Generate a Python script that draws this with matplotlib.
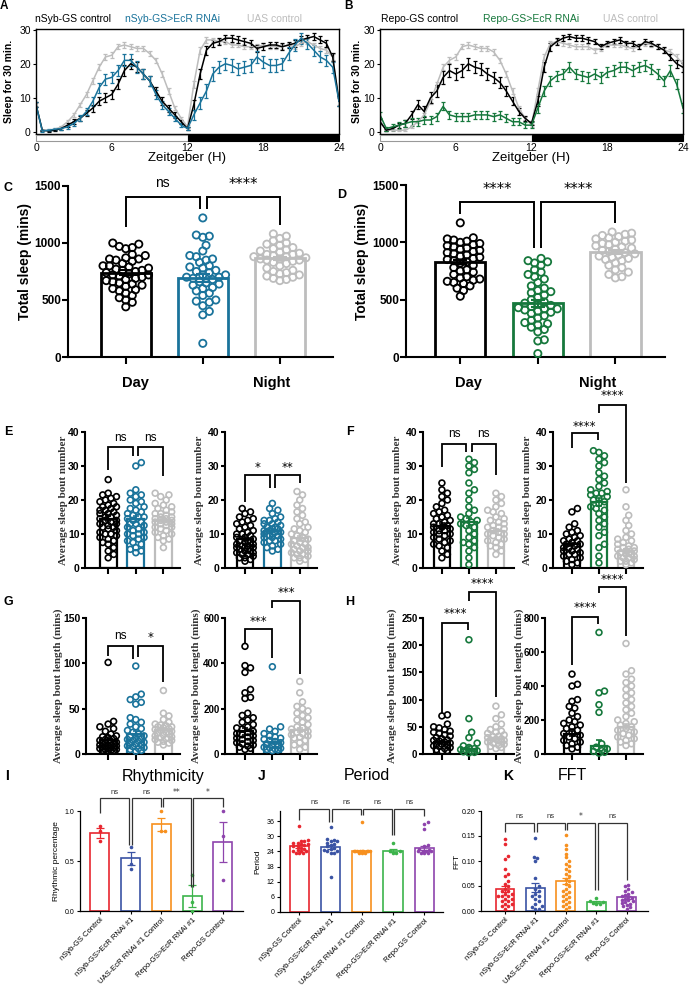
import numpy as np
import matplotlib
matplotlib.use('Agg')
import matplotlib.pyplot as plt
from matplotlib.patches import Rectangle

plt.rcParams['font.family'] = ['Liberation Sans', 'DejaVu Sans']

# ---------------- DATA ----------------
BLACK = '#000000'
BLUE = '#1a739b'
GREEN = '#16783c'
GRAY = '#bdbdbd'
IK_COLORS = ['#e8262f', '#3a53a4', '#f7901e', '#3cb44b', '#8e44ad']

zt_ticks = [0, 6, 12, 18, 24]

# Panel A (30-min bins, ZT 0..24)
A_black = [8, 0.5, 0.3, 0.5, 1, 2, 3, 4,
           5.5, 7, 9, 10, 11, 14, 18, 20,
           19, 17, 15, 12, 9, 7, 5, 3,
           1, 8, 17, 24, 26, 26.5, 27.5, 27.5,
           27, 26.5, 26, 24.5, 25, 25.5, 25.5, 25,
           25.5, 26, 27, 27.5, 28, 27, 26, 22,
           9]
A_blue = [8, 0.3, 0.5, 0.8, 1, 1.5, 2.5, 4,
          6, 9, 13, 15.5, 16, 18, 21, 21,
          19, 17, 15, 11, 8, 6, 4, 2,
          1, 5, 8.5, 12, 17, 19, 20, 19.5,
          18.5, 19, 19.5, 22, 20.5, 19.5, 19.5, 20,
          23, 25.5, 27.5, 26, 24, 22, 21, 19,
          9]
A_gray = [8, 0.3, 0.5, 0.8, 1.5, 3, 5, 8,
          11, 15, 19, 22, 22.5, 25, 25.5, 25,
          24.5, 24.5, 23, 21, 17, 12, 7, 4,
          1.5, 14, 24, 27, 27, 26.5, 26.5, 25.5,
          25.5, 25, 25, 25, 25.5, 25, 25, 25,
          25.5, 25, 26, 26.5, 25.5, 24.5, 24, 22,
          9]
A_black_err = [0.8, 0.2, 0.2, 0.3, 0.4, 0.5, 0.7, 0.8,
               0.9, 1.0, 1.2, 1.3, 1.3, 1.4, 1.5, 1.5,
               1.5, 1.4, 1.4, 1.3, 1.2, 1.0, 0.8, 0.6,
               0.4, 1.5, 1.6, 1.3, 1.0, 1.0, 1.0, 1.0,
               1.0, 1.0, 1.0, 1.0, 1.0, 1.0, 1.0, 1.0,
               1.0, 1.0, 1.0, 1.0, 1.0, 1.0, 1.0, 1.2,
               1.5]
A_blue_err = [0.8, 0.2, 0.3, 0.3, 0.4, 0.5, 0.7, 0.9,
              1.1, 1.3, 1.5, 1.6, 1.6, 1.7, 1.8, 1.8,
              1.7, 1.6, 1.5, 1.4, 1.2, 1.0, 0.8, 0.6,
              0.5, 1.5, 1.8, 2.0, 2.0, 1.8, 1.8, 1.8,
              1.8, 1.8, 1.8, 1.8, 1.8, 1.8, 1.8, 1.8,
              1.8, 1.7, 1.6, 1.6, 1.6, 1.6, 1.6, 1.6,
              1.5]
A_gray_err = [0.5, 0.1, 0.2, 0.2, 0.3, 0.4, 0.5, 0.6,
              0.7, 0.8, 0.9, 0.9, 0.9, 0.8, 0.8, 0.8,
              0.8, 0.8, 0.8, 0.8, 0.8, 0.8, 0.7, 0.5,
              0.4, 1.0, 1.0, 0.8, 0.7, 0.7, 0.7, 0.7,
              0.7, 0.7, 0.7, 0.7, 0.7, 0.7, 0.7, 0.7,
              0.7, 0.7, 0.7, 0.7, 0.7, 0.7, 0.7, 0.8,
              1.0]

# Panel B
B_black = [3, 0.5, 1, 2, 2.5, 5, 8, 6,
           10, 12, 16, 18, 17, 18, 20, 19,
           18.5, 17, 16, 14.5, 12, 9, 6, 4,
           2.5, 9, 19, 25, 26.5, 27.5, 28, 27.5,
           27.5, 27, 26.5, 25, 26, 26.5, 27, 26,
           26, 25, 26.5, 26, 25, 24, 22, 20,
           19]
B_green = [5, 1, 1.5, 2, 2.5, 3, 3, 3.5,
           3.5, 4.5, 7.5, 5, 4.5, 4.5, 4.5, 5,
           5, 5, 4.5, 5, 4, 3, 3, 2,
           2, 7, 12, 15, 16.5, 17, 19, 17,
           16.5, 16, 17, 16, 17.5, 18, 19, 19,
           18, 19, 19.5, 18.5, 17, 15, 18, 14,
           7]
B_gray = [3, 0.5, 0.5, 0.5, 0.5, 1.5, 3, 5,
          9, 14, 19, 21, 22, 25, 25.5, 25,
          24.5, 24.5, 23.5, 21, 17, 12, 7, 4,
          2, 12, 22, 26, 26.5, 26, 25.5, 25,
          25, 25, 24, 24.5, 25.5, 25.5, 25.5, 25,
          24.5, 25, 26, 25.5, 25, 24, 23.5, 22,
          20]
B_black_err = [0.8, 0.3, 0.5, 0.7, 0.9, 1.1, 1.3, 1.5,
               1.6, 1.7, 1.8, 1.8, 1.8, 1.8, 1.8, 1.8,
               1.7, 1.7, 1.6, 1.5, 1.4, 1.2, 1.0, 0.8,
               0.6, 1.5, 1.5, 1.2, 1.0, 0.8, 0.8, 0.8,
               0.8, 0.8, 0.8, 0.8, 0.8, 0.8, 0.8, 0.8,
               0.8, 0.8, 0.8, 0.8, 0.8, 0.9, 1.0, 1.2,
               1.3]
B_green_err = [0.8, 0.6, 0.8, 1.0, 1.1, 1.2, 1.2, 1.2,
               1.2, 1.2, 1.2, 1.2, 1.2, 1.2, 1.2, 1.2,
               1.2, 1.2, 1.2, 1.2, 1.2, 1.1, 1.0, 0.9,
               0.8, 1.3, 1.5, 1.5, 1.5, 1.5, 1.5, 1.5,
               1.5, 1.5, 1.5, 1.5, 1.5, 1.5, 1.5, 1.5,
               1.5, 1.5, 1.5, 1.5, 1.5, 1.5, 1.5, 1.5,
               1.5]
B_gray_err = A_gray_err

# Panel C (total sleep, nSyb)
C_black = [1000, 990, 970, 960, 950, 900, 890, 870, 860, 860, 850, 840, 820, 800, 800,
           790, 780, 770, 760, 760, 750, 740, 730, 720, 720, 710, 700, 690, 680, 670,
           660, 650, 640, 630, 620, 600, 590, 580, 560, 540, 520, 500, 480, 440]
C_blue = [1220, 1070, 1060, 1050, 980, 930, 890, 880, 860, 850, 830, 800, 790, 780, 760,
          750, 740, 720, 720, 700, 700, 690, 680, 660, 650, 640, 630, 610, 600, 580,
          560, 540, 500, 490, 480, 450, 400, 370, 120]
C_gray = [1080, 1060, 1040, 1020, 1000, 990, 980, 960, 950, 940, 930, 920, 910, 900, 900,
          890, 880, 880, 870, 860, 860, 850, 850, 840, 830, 820, 800, 780, 760, 750,
          740, 730, 720, 710, 700, 690, 680, 670]
C_means = [740, 690, 865]
C_sems = [22, 35, 15]

# Panel D (total sleep, Repo)
D_black = [1170, 1040, 1030, 1020, 1010, 1000, 990, 980, 970, 960, 950, 940, 930, 920, 910,
           900, 890, 880, 870, 860, 850, 840, 830, 820, 800, 780, 760, 750, 740, 720,
           700, 690, 680, 670, 660, 650, 640, 620, 600, 580, 530]
D_green = [860, 840, 830, 820, 800, 760, 740, 720, 700, 680, 650, 620, 600, 580, 570,
           560, 540, 520, 500, 480, 470, 460, 450, 440, 430, 420, 420, 410, 400, 390,
           380, 360, 340, 320, 300, 290, 280, 260, 240, 220, 150, 140, 30]
D_gray = [1090, 1080, 1070, 1060, 1050, 1040, 1030, 1020, 1010, 1000, 990, 980, 970, 960, 950,
          940, 930, 920, 910, 900, 890, 880, 870, 860, 850, 840, 820, 800, 780, 760,
          740, 720, 700, 690]
D_means = [830, 470, 915]
D_sems = [20, 30, 14]

# Panel E (bout number, nSyb)
E_day_black = [26, 22, 21.5, 21, 20.5, 20, 19.5, 19, 18.5, 18, 18, 17.5, 17, 17, 16.5, 16, 16,
               15.5, 15, 15, 14.5, 14, 14, 13.5, 13, 13, 12.5, 12, 12, 11.5, 11, 10.5, 10, 10,
               9.5, 9, 8.5, 8, 7.5, 7, 6, 5, 4, 3]
E_day_blue = [31, 30, 23, 22, 21.5, 21, 20, 19.5, 19, 18, 17.5, 17, 16.5, 16, 15.5, 15, 15,
              14.5, 14, 13.5, 13, 13, 12.5, 12, 11.5, 11, 10.5, 10, 10, 9.5, 9, 8.5, 8, 7.5,
              7, 6, 5.5, 5, 4.5]
E_day_gray = [22, 21.5, 21, 20, 19, 18.5, 18, 17.5, 17, 16.5, 16, 16, 15.5, 15, 15, 14.5, 14.5,
              14, 14, 13.5, 13.5, 13, 13, 12.5, 12, 12, 11.5, 11, 10.5, 10, 9.5, 9, 8.5, 8, 6]
E_night_black = [17.5, 16.5, 16, 15, 14.5, 14, 13.5, 13, 12.5, 12, 11.5, 11, 10.5, 10, 10, 9.5,
                 9, 9, 8.5, 8, 8, 7.5, 7.5, 7, 7, 6.5, 6.5, 6, 6, 6, 5.5, 5.5, 5, 5, 4.5, 4.5,
                 4, 4, 3.5, 3, 3, 2.5, 2]
E_night_blue = [19, 17.5, 17, 16, 15, 14.5, 14, 14, 13.5, 13, 13, 12.5, 12, 12, 11.5, 11.5, 11,
                11, 10.5, 10.5, 10, 10, 9.5, 9.5, 9, 9, 8.5, 8, 8, 7.5, 7, 6.5, 6, 5.5, 5]
E_night_gray = [22.5, 21.5, 20, 18.5, 17.5, 16.5, 15.5, 14.5, 13.5, 13, 12, 11.5, 11, 10.5, 10,
                9.5, 9, 8.5, 8, 7.5, 7, 7, 6.5, 6, 6, 5.5, 5, 5, 4.5, 4, 4, 3.5, 3, 3, 2.5, 2]
E_day_means = [14.5, 14.5, 14]
E_day_sems = [0.8, 0.9, 0.6]
E_night_means = [8.5, 11, 8.7]
E_night_sems = [0.6, 0.5, 0.7]

# Panel F (bout number, Repo)
F_day_black = [25, 23, 22, 21, 20, 19, 18, 17, 16.5, 16, 15.5, 15, 14.5, 14, 13.5, 13, 13, 12.5,
               12, 12, 11.5, 11, 11, 10.5, 10, 10, 9.5, 9, 8.5, 8, 7.5, 7, 6.5, 6, 5, 4, 3]
F_day_green = [32, 31, 30, 29, 28, 25, 23, 22, 20, 18, 17, 16, 15, 14.5, 14, 13.5, 13, 12.5, 12,
               11, 10, 9, 8, 7.5, 7, 6, 5, 3, 1]
F_day_gray = [22, 21, 20, 19, 18, 17, 16.5, 16, 15, 14.5, 14, 13.5, 13, 12.5, 12, 12, 11.5, 11,
              10.5, 10, 10, 9.5, 9, 8.5, 8, 7.5, 7, 6.5, 6, 5, 4]
F_night_black = [17.5, 16.5, 13, 12, 11, 10.5, 10, 9.5, 9, 8.5, 8, 8, 7.5, 7, 7, 6.5, 6, 6, 5.5,
                 5, 5, 4.5, 4, 4, 3.5, 3, 2.5, 2, 1.5, 1]
F_night_green = [34.5, 34, 33, 32, 31, 30, 28, 27, 26, 25, 24, 23, 22.5, 22, 22, 21.5, 21, 20.5,
                 20, 19.5, 19, 18, 17.5, 17, 16, 15, 14, 13, 12, 10.5, 9.5, 7, 6, 3.5, 1.5]
F_night_gray = [23, 18, 15.5, 14, 12.5, 11, 10, 9, 8.5, 8, 7.5, 7, 6.5, 6, 6, 5.5, 5.5, 5, 5,
                4.5, 4.5, 4, 4, 3.5, 3.5, 3, 3, 2.5, 2, 2, 1.5, 1]
F_day_means = [12.5, 13.5, 11]
F_day_sems = [0.7, 1.2, 0.6]
F_night_means = [7, 19.5, 5]
F_night_sems = [0.5, 1.2, 0.5]

# Panel G (bout length, nSyb)
G_day_black = [101, 36, 33, 30, 28, 25, 22, 20, 19, 18, 17, 16, 15, 14, 13, 12, 12, 11, 10, 10,
               9, 9, 8, 8, 7, 7, 6, 6, 5, 5, 4, 4, 3, 3]
G_day_blue = [97, 66, 63, 60, 57, 55, 40, 38, 35, 33, 30, 28, 26, 24, 22, 20, 19, 18, 17, 16, 15,
              14, 13, 12, 11, 10, 9, 8, 7, 6, 5, 4, 3]
G_day_gray = [70, 45, 42, 38, 35, 33, 32, 31, 30, 30, 29, 28, 27, 26, 25, 24, 23, 22, 21, 20, 19,
              18, 17, 16, 15, 14, 13, 12, 10]
G_night_black = [475, 390, 380, 360, 285, 270, 250, 245, 180, 170, 160, 150, 140, 130, 120, 115,
                 110, 100, 95, 90, 85, 80, 75, 70, 65, 60, 55, 50, 45, 40, 35, 30, 25, 20]
G_night_blue = [385, 120, 110, 100, 90, 80, 75, 70, 65, 60, 55, 50, 45, 40, 35, 30, 28, 25, 22,
                20, 18, 15]
G_night_gray = [320, 270, 230, 210, 200, 190, 180, 170, 160, 150, 140, 130, 120, 115, 110, 100,
                95, 90, 85, 80, 75, 70, 60, 50, 40, 30, 20]
G_day_means = [15, 22, 27]
G_day_sems = [2.5, 3, 1.8]
G_night_means = [100, 55, 105]
G_night_sems = [15, 12, 10]

# Panel H (bout length, Repo)
H_day_black = [72, 70, 55, 50, 48, 45, 42, 40, 38, 35, 33, 30, 28, 26, 25, 24, 22, 20, 19, 18,
               16, 15, 14, 12, 10, 8, 6, 5]
H_day_green = [210, 65, 40, 30, 20, 15, 12, 10, 8, 7, 6, 5, 4, 3, 2]
H_day_gray = [88, 72, 65, 55, 50, 45, 42, 40, 38, 35, 33, 32, 30, 28, 27, 26, 25, 24, 22, 20,
              18, 16, 14, 12, 10]
H_night_black = [470, 410, 400, 320, 310, 280, 270, 240, 220, 200, 190, 180, 170, 160, 150, 140,
                 130, 120, 110, 100, 90, 80, 70, 60, 50, 40, 30]
H_night_green = [715, 370, 360, 290, 245, 60, 40, 30, 20, 15, 10, 5]
H_night_gray = [650, 490, 470, 440, 420, 400, 380, 360, 340, 320, 300, 280, 260, 240, 220, 200,
                190, 180, 170, 160, 150, 140, 130, 120, 110, 100, 90, 80, 70, 60, 50]
H_day_means = [22, 10, 28]
H_day_sems = [2, 5, 2]
H_night_means = [120, 50, 160]
H_night_sems = [15, 35, 15]

# Panels I, J, K
IJK_labels = ['nSyb-GS Control', 'nSyb-GS>EcR RNAi #1', 'UAS-EcR RNAi #1 Control',
              'Repo-GS>EcR RNAi #1', 'Repo-GS Control']
I_points = [[0.85, 0.80, 0.70], [0.64, 0.47, 0.42], [1.0, 0.80, 0.80], [0.36, 0.09, 0.0],
            [1.0, 0.75, 0.31]]
I_means = [0.78, 0.53, 0.87, 0.15, 0.69]
I_sems = [0.05, 0.065, 0.065, 0.11, 0.2]
J_points = [[34, 28.5, 28, 28, 27.5, 27.5, 27, 27, 26.5, 26, 26, 25.5, 25, 24.5, 24, 24, 24,
             23.5, 23.5, 23.5],
            [33.5, 29, 28.5, 28, 28, 27.5, 27, 26.5, 26, 25.5, 25, 24.5, 24, 24, 23.5, 23.5, 14],
            [35.5, 24, 24, 24, 24, 24, 24, 24, 24, 24, 23.5, 23.5, 23.5],
            [27.5, 24, 24, 23.5, 23.5],
            [35.5, 35, 33, 26.5, 26, 25, 24.5, 24, 24, 24, 24, 23.5, 23.5, 23.5]]
J_means = [26.0, 25.8, 24.0, 24.3, 25.2]
J_sems = [0.6, 0.9, 0.3, 0.7, 0.8]
K_points = [[0.145, 0.135, 0.11, 0.105, 0.085, 0.075, 0.07, 0.06, 0.055, 0.05, 0.045, 0.04,
             0.04, 0.035, 0.035, 0.03, 0.03, 0.03, 0.025, 0.025, 0.02, 0.02, 0.015, 0.015,
             0.01, 0.01, 0.005],
            [0.146, 0.108, 0.106, 0.1, 0.067, 0.05, 0.045, 0.04, 0.035, 0.03, 0.03, 0.025,
             0.02, 0.015, 0.01, 0.008, 0.005, 0.005],
            [0.153, 0.132, 0.125, 0.115, 0.108, 0.1, 0.095, 0.09, 0.085, 0.08, 0.075, 0.07,
             0.065, 0.06, 0.055, 0.05, 0.045, 0.04, 0.038, 0.035, 0.03, 0.028, 0.025, 0.02,
             0.018, 0.015, 0.01, 0.008, 0.005],
            [0.026, 0.02, 0.018, 0.016, 0.015, 0.015],
            [0.053, 0.05, 0.045, 0.04, 0.038, 0.035, 0.033, 0.03, 0.028, 0.027, 0.025, 0.023,
             0.022, 0.02, 0.018, 0.016, 0.015, 0.012, 0.01, 0.008, 0.005]]
K_means = [0.045, 0.047, 0.060, 0.018, 0.028]
K_sems = [0.006, 0.009, 0.006, 0.002, 0.003]

# ---------------- FIGURE ----------------
W, H = 689, 989
fig = plt.figure(figsize=(W / 100, H / 100), dpi=100)


def add_ax(l, t, r, b):
    return fig.add_axes([l / W, 1 - b / H, (r - l) / W, (b - t) / H])


def ftext(x, y, s, **kw):
    kw.setdefault('ha', 'center')
    kw.setdefault('va', 'center')
    fig.text(x / W, 1 - y / H, s, **kw)


def swarm(ax, vals, pos, diam_px, max_half):
    bb = ax.get_position()
    axw, axh = bb.width * W, bb.height * H
    x0, x1 = ax.get_xlim()
    y0, y1 = ax.get_ylim()
    sx = axw / (x1 - x0)
    sy = axh / (y1 - y0)
    v = np.asarray(vals, float)
    order = np.argsort(v)
    step = diam_px * 0.5
    maxpx = max_half * sx
    cands = [0.0]
    k = 1
    while k * step <= maxpx + 1e-9:
        cands += [k * step, -k * step]
        k += 1
    placed = []
    out = np.zeros(len(v))
    for i in order:
        y = v[i] * sy
        best = None
        bestd, bestc = -1, 0.0
        for c in cands:
            if placed:
                P = np.array(placed)
                dmin = np.min(np.hypot(P[:, 0] - c, P[:, 1] - y))
            else:
                dmin = 1e9
            if dmin >= diam_px:
                best = c
                break
            if dmin > bestd:
                bestd, bestc = dmin, c
        if best is None:
            best = bestc
        placed.append((best, y))
        out[i] = pos + best / sx
    return out


def bracket(ax, x1, x2, ytop, y1, y2, txt, ytxt, fs, lw=1.3, col='black', afont=None):
    ax.plot([x1, x1, x2, x2], [y1, ytop, ytop, y2], color=col, lw=lw, clip_on=False,
            solid_joinstyle='miter', solid_capstyle='butt', zorder=6)
    kw = {}
    if afont and '*' in txt:
        kw['family'] = afont
    ax.text((x1 + x2) / 2, ytxt, txt, ha='center', va='center', fontsize=fs,
            clip_on=False, color=col, **kw)


def ts_panel(l, r, series, legend, letter_xy, ylab_x):
    ax = add_ax(l, 29, r, 134)
    for vals, err, col in series:
        t = np.arange(len(vals)) * 0.5
        ax.errorbar(t, vals, yerr=err, color=col, lw=1.1, elinewidth=0.9,
                    capsize=1.3, capthick=0.9)
    ax.set_xlim(0, 24)
    ax.set_ylim(-0.6, 30.2)
    ax.set_yticks([0, 10, 20, 30])
    ax.set_xticks([])
    ax.tick_params(axis='y', length=2.5, width=0.8, labelsize=7.5, pad=1.2)
    for s in ax.spines.values():
        s.set_linewidth(1.0)
    ld = add_ax(l, 135, r, 141)
    ld.add_patch(Rectangle((0, 0), 12, 1, facecolor='white', edgecolor='#999999', lw=0.8,
                           clip_on=False))
    ld.add_patch(Rectangle((12, 0), 12, 1, facecolor='black', edgecolor='black', lw=0.8,
                           clip_on=False))
    ld.set_xlim(0, 24)
    ld.set_ylim(0, 1)
    ld.set_xticks(zt_ticks)
    ld.set_yticks([])
    for s in ld.spines.values():
        s.set_visible(False)
    ld.tick_params(axis='x', length=0, labelsize=7.5, pad=1.5)
    ld.set_xlabel('Zeitgeber (H)', fontsize=9.5, labelpad=-0.5)
    for x, s, c in legend:
        ftext(x, 19, s, color=c, fontsize=7.5, ha='left')
    ftext(letter_xy[0], letter_xy[1], letter_xy[2], fontsize=8.5, fontweight='bold')
    ftext(ylab_x, 81, 'Sleep for 30 min.', rotation=90, fontsize=7.5, fontweight='bold')
    return ax


ts_panel(36, 339,
         [(A_gray, A_gray_err, GRAY), (A_black, A_black_err, BLACK), (A_blue, A_blue_err, BLUE)],
         [(35, 'nSyb-GS control', BLACK), (125, 'nSyb-GS>EcR RNAi', BLUE),
          (247, 'UAS control', GRAY)],
         (4, 6, 'A'), 9)
ts_panel(380, 683,
         [(B_gray, B_gray_err, GRAY), (B_black, B_black_err, BLACK), (B_green, B_green_err, GREEN)],
         [(381, 'Repo-GS control', BLACK), (483, 'Repo-GS>EcR RNAi', GREEN),
          (603, 'UAS control', GRAY)],
         (349, 6, 'B'), 357)


def dot_bar(ax, groups, means, sems, colors, ylim, yticks, xlim, bar_w, bar_lw, ms, mew,
            spine_lw, tick_fs, tick_len, max_half, diam_px, cap, elw):
    ax.set_xlim(*xlim)
    ax.set_ylim(*ylim)
    pos = np.arange(len(groups))
    ax.bar(pos, means, width=bar_w, facecolor='white', edgecolor=colors, lw=bar_lw, zorder=1)
    for p, vals, c in zip(pos, groups, colors):
        xs = swarm(ax, vals, p, diam_px, max_half)
        ax.scatter(xs, vals, s=ms ** 2, facecolors='none', edgecolors=c, linewidths=mew,
                   zorder=3, clip_on=False)
    for p, m, e, c in zip(pos, means, sems, colors):
        ax.errorbar([p], [m], yerr=[e], color=c, capsize=cap, elinewidth=elw, capthick=elw,
                    zorder=4)
    for s in ['top', 'right']:
        ax.spines[s].set_visible(False)
    for s in ['left', 'bottom']:
        ax.spines[s].set_linewidth(spine_lw)
    ax.set_xticks(pos)
    ax.set_xticklabels([])
    ax.set_yticks(yticks)
    ax.set_yticklabels([str(t) for t in yticks], fontweight='bold', fontsize=tick_fs)
    ax.tick_params(axis='both', length=tick_len, width=spine_lw, pad=1)
    return ax


# Panel C
axC = add_ax(68, 186, 333, 357)
dot_bar(axC, [C_black, C_blue, C_gray], C_means, C_sems, [BLACK, BLUE, GRAY], (0, 1500),
        [0, 500, 1000, 1500], (-0.75, 2.69), 0.65, 2.0, 5.2, 1.3, 1.5, 8.5, 4, 0.36, 6.5, 5, 1.5)
axC.tick_params(axis='x', length=5)
bracket(axC, 0, 0.96, 1400, 1140, 1300, 'ns', 1530, 10, lw=1.4)
bracket(axC, 1.05, 2, 1400, 1300, 1160, '****', 1510, 10.5, lw=1.4, afont='DejaVu Sans')
ftext(25, 262, 'Total sleep (mins)', rotation=90, fontsize=10, fontweight='bold')
ftext(8, 188, 'C', fontsize=9, fontweight='bold')

# Panel D
axD = add_ax(406, 185, 665, 357)
dot_bar(axD, [D_black, D_green, D_gray], D_means, D_sems, [BLACK, GREEN, GRAY], (0, 1500),
        [0, 500, 1000, 1500], (-0.70, 2.64), 0.65, 2.0, 5.2, 1.3, 1.5, 8.5, 4, 0.36, 6.5, 5, 1.5)
axD.tick_params(axis='x', length=5)
bracket(axD, 0, 0.95, 1350, 1250, 950, '****', 1460, 10.5, lw=1.4, afont='DejaVu Sans')
bracket(axD, 1.04, 2, 1350, 950, 1170, '****', 1460, 10.5, lw=1.4, afont='DejaVu Sans')
ftext(362, 262, 'Total sleep (mins)', rotation=90, fontsize=10, fontweight='bold')
ftext(342, 195, 'D', fontsize=9, fontweight='bold')

# Day / Night headers
for x, s in [(135, 'Day'), (272, 'Night'), (468, 'Day'), (598, 'Night')]:
    ftext(x, 383, s, fontsize=10.5, fontweight='bold')

SERIF = ['Liberation Serif', 'DejaVu Serif']


def small_panel(box, xlim, groups, means, sems, colors, ylim, yticks, ylab, ylab_x, tick_fs=7.5):
    ax = add_ax(*box)
    dot_bar(ax, groups, means, sems, colors, ylim, yticks, xlim, 0.62, 1.6, 4.2, 1.2, 1.5,
            tick_fs, 3, 0.36, 5.5, 2.5, 1.2)
    ax.tick_params(axis='x', length=4)
    cy = (box[1] + box[3]) / 2
    ftext(ylab_x, cy, ylab, rotation=90, fontsize=8, fontweight='bold', family=SERIF,
          color='#333333')
    return ax


NB = 'Average sleep bout number'
BL = 'Average sleep bout length (mins)'

# E
axEd = small_panel((85, 432, 180, 568), (-0.84, 2.6), [E_day_black, E_day_blue, E_day_gray],
                   E_day_means, E_day_sems, [BLACK, BLUE, GRAY], (0, 40), [0, 10, 20, 30, 40],
                   NB, 63)
bracket(axEd, 0, 0.91, 35.6, 28.8, 33, 'ns', 38.3, 8.5)
bracket(axEd, 1.09, 2, 35.6, 33, 27, 'ns', 38.3, 8.5)
axEn = small_panel((225, 432, 317, 568), (-0.73, 2.63), [E_night_black, E_night_blue, E_night_gray],
                   E_night_means, E_night_sems, [BLACK, BLUE, GRAY], (0, 40), [0, 10, 20, 30, 40],
                   NB, 200)
bracket(axEn, 0, 0.9, 27.4, 19.4, 23.5, '*', 29.5, 8.5, afont='DejaVu Sans')
bracket(axEn, 1.1, 2, 27.4, 23.5, 25, '**', 29.5, 8.5, afont='DejaVu Sans')
ftext(8, 432, 'E', fontsize=9, fontweight='bold')

# F
axFd = small_panel((423, 432, 514, 568), (-0.7, 2.67), [F_day_black, F_day_green, F_day_gray],
                   F_day_means, F_day_sems, [BLACK, GREEN, GRAY], (0, 40), [0, 10, 20, 30, 40],
                   NB, 397)
bracket(axFd, 0, 0.9, 36.5, 29.7, 34, 'ns', 39.3, 8.5)
bracket(axFd, 1.1, 2, 36.5, 34, 27.4, 'ns', 39.3, 8.5)
axFn = small_panel((553, 432, 643, 568), (-0.7, 2.63), [F_night_black, F_night_green, F_night_gray],
                   F_night_means, F_night_sems, [BLACK, GREEN, GRAY], (0, 40), [0, 10, 20, 30, 40],
                   NB, 527)
bracket(axFn, 0, 0.95, 39.7, 35.3, 37.6, '****', 41.5, 8.5, afont='DejaVu Sans')
bracket(axFn, 1.0, 2, 48, 45.6, 25, '****', 50.8, 8.5, afont='DejaVu Sans')
ftext(350, 432, 'F', fontsize=9, fontweight='bold')

# G
axGd = small_panel((86, 618, 180, 754), (-0.8, 2.6), [G_day_black, G_day_blue, G_day_gray],
                   G_day_means, G_day_sems, [BLACK, BLUE, GRAY], (0, 150), [0, 50, 100, 150],
                   BL, 58)
bracket(axGd, 0, 0.91, 119, 108, 105, 'ns', 130, 8.5)
bracket(axGd, 1.09, 2, 119, 107, 79, '*', 129, 8.5, afont='DejaVu Sans')
axGn = small_panel((225, 618, 317, 754), (-0.73, 2.63), [G_night_black, G_night_blue, G_night_gray],
                   G_night_means, G_night_sems, [BLACK, BLUE, GRAY], (0, 600), [0, 200, 400, 600],
                   BL, 196, tick_fs=7)
bracket(axGn, 0, 0.97, 551, 490, 423, '***', 585, 8.5, afont='DejaVu Sans')
bracket(axGn, 1.0, 2, 675, 644, 353, '***', 713, 8.5, afont='DejaVu Sans')
ftext(8, 602, 'G', fontsize=9, fontweight='bold')

# H
axHd = small_panel((423, 618, 514, 754), (-0.7, 2.67), [H_day_black, H_day_green, H_day_gray],
                   H_day_means, H_day_sems, [BLACK, GREEN, GRAY], (0, 250),
                   [0, 50, 100, 150, 200, 250], BL, 392, tick_fs=7)
bracket(axHd, 0, 0.98, 241, 75, 228, '****', 259, 8.5, afont='DejaVu Sans')
bracket(axHd, 1.0, 2, 297, 281, 105, '****', 313, 8.5, afont='DejaVu Sans')
axHn = small_panel((545, 618, 643, 754), (-1.0, 2.63), [H_night_black, H_night_green, H_night_gray],
                   H_night_means, H_night_sems, [BLACK, GREEN, GRAY], (0, 800),
                   [0, 200, 400, 600, 800], BL, 519, tick_fs=7)
bracket(axHn, 0, 0.98, 806, 523, 765, '****', 863, 8.5, afont='DejaVu Sans')
bracket(axHn, 1.0, 2, 982, 947, 694, '****', 1028, 8.5, afont='DejaVu Sans')
ftext(350, 602, 'H', fontsize=9, fontweight='bold')


# I, J, K
def ijk_panel(box, xlim, points, means, sems, ylim, yticks, yticklabels, ylab, ylab_x,
              title, title_x, letter, letter_x):
    ax = add_ax(*box)
    ax.set_xlim(*xlim)
    ax.set_ylim(*ylim)
    pos = np.arange(len(points))
    ax.bar(pos, means, width=0.62, facecolor='white', edgecolor=IK_COLORS, lw=1.2, zorder=1)
    for p, vals, c in zip(pos, points, IK_COLORS):
        xs = swarm(ax, vals, p, 3.3, 0.27)
        ax.scatter(xs, vals, s=2.6 ** 2, color=c, zorder=3, clip_on=False, linewidths=0)
    for p, m, e, c in zip(pos, means, sems, IK_COLORS):
        ax.errorbar([p], [m], yerr=[e], color=c, capsize=3, elinewidth=0.9, capthick=0.9,
                    zorder=4)
    for s in ['top', 'right']:
        ax.spines[s].set_visible(False)
    for s in ['left', 'bottom']:
        ax.spines[s].set_linewidth(0.9)
    ax.set_xticks(pos)
    ax.set_xticklabels(IJK_labels, rotation=45, ha='right', rotation_mode='anchor', fontsize=5.5)
    ax.set_yticks(yticks)
    ax.set_yticklabels(yticklabels, fontsize=5)
    ax.tick_params(axis='both', length=2.5, width=0.8, pad=1.5)
    cy = (box[1] + box[3]) / 2
    ftext(ylab_x, cy, ylab, rotation=90, fontsize=6)
    ftext(title_x, 776, title, fontsize=11.5)
    ftext(letter_x, 776, letter, fontsize=10, fontweight='bold')
    return ax


BR = '#333333'
axI = ijk_panel((80, 811, 243, 911), (-0.65, 4.66), I_points, I_means, I_sems, (0, 1.0),
                [0.0, 0.5, 1.0], ['0.0', '0.5', '1.0'], 'Rhythmic percentage', 57,
                'Rhythmicity', 163, 'I', 7)
for (x1, x2, l1, l2, s) in [(0, 0.96, 0.98, 0.66, 'ns'), (1.04, 2.0, 0.66, 1.04, 'ns'),
                            (2.05, 2.96, 1.04, 0.24, '**'), (3.04, 4.0, 0.24, 1.04, '*')]:
    bracket(axI, x1, x2, 1.13, l1, l2, s, 1.19, 5.5, lw=0.9, col=BR, afont='DejaVu Sans')

axJ = ijk_panel((280, 811, 443, 912), (-0.62, 4.6), J_points, J_means, J_sems, (0, 40),
                [0, 6, 12, 18, 24, 30, 36], ['0', '6', '12', '18', '24', '30', '36'], 'Period', 258,
                'Period', 367, 'J', 262)
for (x1, x2, l1, l2) in [(0, 0.96, 36.3, 35.5), (1.04, 1.96, 35.5, 38.3),
                         (2.04, 2.96, 38.3, 30.4), (3.04, 4.0, 30.4, 38)]:
    bracket(axJ, x1, x2, 40.7, l1, l2, 'ns', 43.2, 5.5, lw=0.9, col=BR)

axK = ijk_panel((481, 811, 648, 911), (-0.79, 4.7), K_points, K_means, K_sems, (0, 0.2),
                [0.0, 0.05, 0.10, 0.15, 0.20], ['0.00', '0.05', '0.10', '0.15', '0.20'], 'FFT', 457,
                'FFT', 572, 'K', 508)
for (x1, x2, l1, l2, s) in [(0, 0.96, 0.158, 0.158, 'ns'), (1.04, 1.96, 0.158, 0.162, 'ns'),
                            (2.04, 2.96, 0.162, 0.042, '*'), (3.04, 4.0, 0.042, 0.062, 'ns')]:
    bracket(axK, x1, x2, 0.176, l1, l2, s, 0.19, 5.5, lw=0.9, col=BR, afont='DejaVu Sans')

fig.savefig('out.png', dpi=100)
